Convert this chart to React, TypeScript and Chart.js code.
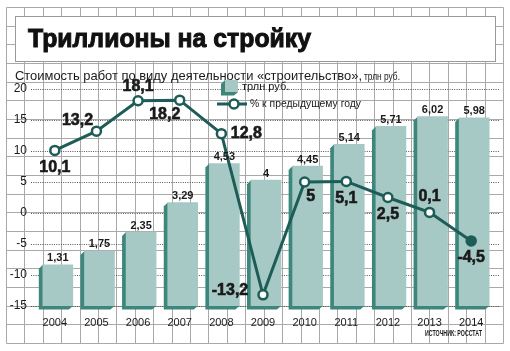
import React, { useEffect, useRef } from "react";
import { Chart, registerables } from "chart.js";

Chart.register(...registerables);

const TITLE = "Триллионы на стройку";
const SUBTITLE = "Стоимость работ по виду деятельности «строительство»,";
const SUBTITLE_UNIT = "трлн руб.";
const SOURCE = "ИСТОЧНИК: РОССТАТ";
const BAR_LABEL = "трлн руб.";
const LINE_LABEL = "% к предыдущему году";

const years = ["2004", "2005", "2006", "2007", "2008", "2009", "2010", "2011", "2012", "2013", "2014"];
const volume = [1.31, 1.75, 2.35, 3.29, 4.53, 4, 4.45, 5.14, 5.71, 6.02, 5.98];
const growth = [10.1, 13.2, 18.1, 18.2, 12.8, -13.2, 5, 5.1, 2.5, 0.1, -4.5];
const yTicks = [-15, -10, -5, 0, 5, 10, 15, 20];

// label placement offsets for the growth labels (dx, dy) relative to the point
const growthLabelOffsets: [number, number][] = [
  [0, 17], [-19, -11], [0, -14], [-15, 14], [25, 0], [-33, -4],
  [6, 15], [0, 17], [0, 17], [0, -16], [0, 17],
];

const FRONT = "#a7c9c5";
const SIDE = "#3d867c";
const LINE = "#1d5c57";
const GRID = "#a9a9a9";
const TEXT = "#1a1a1a";
const SANS = '"Liberation Sans", Arial, sans-serif';
const NARROW = '"Liberation Sans Narrow", "Liberation Sans", Arial, sans-serif';
const BAR_SHIFT = 3;
const DEPTH_X = 4;
const DEPTH_Y = 3.5;

const fmt = (v: number) => String(v).replace(".", ",");

function drawBox(ctx: CanvasRenderingContext2D, L: number, R: number, T: number, B: number, front = true) {
  ctx.fillStyle = SIDE;
  ctx.beginPath();
  ctx.moveTo(L, T);
  ctx.lineTo(L - DEPTH_X, T + DEPTH_X);
  ctx.lineTo(L - DEPTH_X, B + DEPTH_Y);
  ctx.lineTo(R - DEPTH_X, B + DEPTH_Y);
  ctx.lineTo(R, B);
  ctx.closePath();
  ctx.fill();
  if (front) {
    ctx.fillStyle = FRONT;
    ctx.fillRect(L, T, R - L, B - T);
  }
}

const decorPlugin = {
  id: "decor",
  beforeDraw(chart: any) {
    const ctx = chart.ctx as CanvasRenderingContext2D;
    ctx.save();
    ctx.fillStyle = "#fff";
    ctx.fillRect(0, 0, chart.width, chart.height);
    // graph paper
    const left = 6, right = 503, top = 7, bottom = 343;
    ctx.strokeStyle = GRID;
    ctx.lineWidth = 1;
    ctx.beginPath();
    const nx = 27;
    for (let i = 0; i <= nx; i++) {
      const x = Math.round(left + ((right - left) * i) / nx) + 0.5;
      ctx.moveTo(x, top + 0.5);
      ctx.lineTo(x, bottom + 0.5);
    }
    const ny = 18;
    for (let j = 0; j <= ny; j++) {
      const y = Math.round(top + ((bottom - top) * j) / ny) + 0.5;
      ctx.moveTo(left + 0.5, y);
      ctx.lineTo(right + 0.5, y);
    }
    ctx.stroke();
    // title box
    ctx.fillStyle = "#fff";
    ctx.fillRect(15, 16, 480, 46);
    ctx.strokeStyle = "#9a9a9a";
    ctx.strokeRect(15.5, 16.5, 480, 45);
    ctx.restore();
  },
  beforeDatasetsDraw(chart: any) {
    const ctx = chart.ctx as CanvasRenderingContext2D;
    const y = chart.scales.y;
    ctx.save();
    ctx.strokeStyle = "#555";
    ctx.lineWidth = 1;
    ctx.setLineDash([1, 1.3]);
    yTicks.forEach((v) => {
      const py = Math.round(y.getPixelForValue(v)) + 0.5;
      ctx.beginPath();
      ctx.moveTo(31, py);
      ctx.lineTo(499, py);
      ctx.stroke();
    });
    ctx.setLineDash([]);
    const meta = chart.getDatasetMeta(1);
    meta.data.forEach((bar: any) => {
      const p = bar.getProps(["x", "y", "base", "width"], true);
      const L = p.x - p.width / 2 + BAR_SHIFT;
      const R = p.x + p.width / 2 + BAR_SHIFT;
      drawBox(ctx, L, R, p.y, p.base, false);
    });
    ctx.restore();
  },
  beforeDatasetDraw(chart: any, args: any) {
    if (args.index === 1) {
      chart.ctx.save();
      chart.ctx.translate(BAR_SHIFT, 0);
    }
  },
  afterDatasetDraw(chart: any, args: any) {
    if (args.index === 1) chart.ctx.restore();
  },
  afterDatasetsDraw(chart: any) {
    const ctx = chart.ctx as CanvasRenderingContext2D;
    ctx.save();
    ctx.fillStyle = TEXT;
    ctx.strokeStyle = TEXT;
    // bar value labels
    ctx.font = `bold 11px ${SANS}`;
    ctx.textAlign = "center";
    ctx.textBaseline = "alphabetic";
    chart.getDatasetMeta(1).data.forEach((bar: any, i: number) => {
      const p = bar.getProps(["x", "y"], true);
      ctx.fillText(fmt(volume[i]), p.x + BAR_SHIFT, p.y - 3.5);
    });
    // growth labels
    ctx.font = `bold 16px ${SANS}`;
    ctx.textBaseline = "middle";
    ctx.lineWidth = 0.6;
    chart.getDatasetMeta(0).data.forEach((pt: any, i: number) => {
      const p = pt.getProps(["x", "y"], true);
      const [dx, dy] = growthLabelOffsets[i];
      ctx.fillText(fmt(growth[i]), p.x + dx, p.y + dy);
      ctx.strokeText(fmt(growth[i]), p.x + dx, p.y + dy);
    });
    // legend
    drawBox(ctx, 225, 238, 80, 92, true);
    ctx.strokeStyle = LINE;
    ctx.lineWidth = 3;
    ctx.beginPath();
    ctx.moveTo(217, 104);
    ctx.lineTo(247, 104);
    ctx.stroke();
    ctx.beginPath();
    ctx.arc(234, 104, 4.5, 0, Math.PI * 2);
    ctx.fillStyle = "#fff";
    ctx.fill();
    ctx.lineWidth = 2.5;
    ctx.stroke();
    ctx.fillStyle = TEXT;
    ctx.textAlign = "left";
    ctx.font = `11px ${NARROW}`;
    ctx.fillText(BAR_LABEL, 242, 87, 61);
    ctx.fillText(LINE_LABEL, 250, 104, 111);
    // source
    ctx.font = `bold 9px ${NARROW}`;
    ctx.fillText(SOURCE, 425, 334, 57);
    ctx.restore();
  },
};

export default function App() {
  const ref = useRef<HTMLCanvasElement>(null);
  useEffect(() => {
    const chart = new Chart(ref.current!, {
      type: "bar",
      data: {
        labels: years,
        datasets: [
          {
            type: "line",
            label: LINE_LABEL,
            data: growth,
            yAxisID: "y",
            borderColor: LINE,
            borderWidth: 3,
            pointRadius: 4.5,
            pointBorderWidth: 2.5,
            pointBorderColor: LINE,
            pointBackgroundColor: growth.map((_, i) => (i === growth.length - 1 ? LINE : "#fff")),
            tension: 0,
            order: 0,
          } as any,
          {
            type: "bar",
            label: BAR_LABEL,
            data: volume,
            yAxisID: "y1",
            backgroundColor: FRONT,
            barThickness: 30,
            order: 1,
          } as any,
        ],
      },
      options: {
        responsive: false,
        maintainAspectRatio: false,
        animation: false,
        devicePixelRatio: 1,
        layout: { padding: { left: 0, right: 18, top: 89, bottom: 0 } },
        plugins: { legend: { display: false }, tooltip: { enabled: false }, title: { display: false } },
        scales: {
          x: {
            grid: { display: false, drawTicks: false },
            border: { display: false },
            ticks: { padding: 10, color: TEXT, font: { family: NARROW, size: 11 } },
            afterFit: (s: any) => { s.height = 45; },
          },
          y: {
            min: -15,
            max: 20,
            grid: { display: false, drawTicks: false },
            border: { display: false },
            ticks: { stepSize: 5, padding: 7, color: TEXT, font: { family: NARROW, size: 12 }, callback: (v: any) => String(v) },
            afterFit: (s: any) => { s.width = 34; },
          },
          y1: { display: false, min: 0, max: 6.9 },
        },
      } as any,
      plugins: [decorPlugin],
    });
    return () => chart.destroy();
  }, []);

  return (
    <div style={{ position: "fixed", left: 0, top: 0, width: 510, height: 351, background: "#fff", overflow: "hidden" }}>
      <canvas ref={ref} width={510} height={351} style={{ position: "absolute", left: 0, top: 0, width: 510, height: 351 }} />
      <svg width={510} height={351} style={{ position: "absolute", left: 0, top: 0, pointerEvents: "none" }}>
        <text x={28} y={47} fill="#111" stroke="#111" strokeWidth={1} fontFamily={SANS} fontWeight={700} fontSize={26} textLength={283} lengthAdjust="spacingAndGlyphs">{TITLE}</text>
        <text x={15} y={80} fill={TEXT} fontFamily={NARROW} fontSize={13} textLength={347} lengthAdjust="spacingAndGlyphs">{SUBTITLE}</text>
        <text x={364} y={80} fill={TEXT} fontFamily={NARROW} fontSize={10} textLength={36} lengthAdjust="spacingAndGlyphs">{SUBTITLE_UNIT}</text>
      </svg>
    </div>
  );
}
